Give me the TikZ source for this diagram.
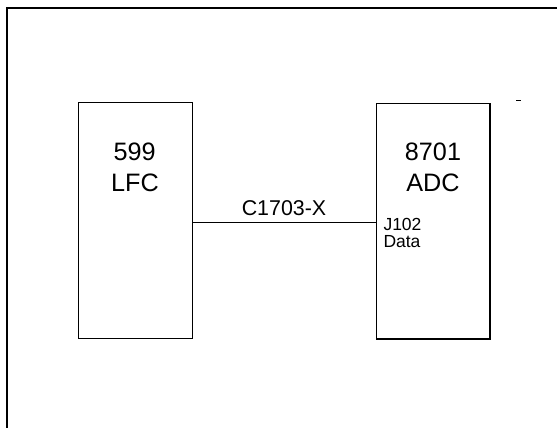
\documentclass[tikz,border=0pt]{standalone}
\usepackage{fontspec}
\setmainfont{Liberation Sans}
\begin{document}
\begin{tikzpicture}[x=1pt,y=-1pt,
  unitbox/.style={draw, line width=1.2pt, minimum width=114pt, minimum height=235.5pt, inner sep=0pt},
  bigtxt/.style={font=\fontsize{25.2}{29}\selectfont, anchor=base, inner sep=0pt},
  midtxt/.style={font=\fontsize{21.4}{25}\selectfont, anchor=base, inner sep=0pt},
  smalltxt/.style={font=\fontsize{17.5}{18}\selectfont, anchor=base west, inner sep=0pt},
  wire/.style={line width=1.2pt}]
\useasboundingbox (0,0) rectangle (557,428);
% outer frame (top and left edges)
\draw[line width=1.4pt] (7,428) -- (7,8) -- (557,8);
% boxes
\node[unitbox] (lfc) at (135.7,220.4) {};
\node[unitbox, minimum width=113.3pt] (adc) at (433.3,221.2) {};
% box labels
\node[bigtxt] (t599) at (134.7,160.7) {599};
\node[bigtxt] (tlfc) at (135,191.7) {LFC};
\node[bigtxt] (t8701) at (433,160.7) {8701};
\node[bigtxt] (tadc) at (433,191.7) {ADC};
% connector
\coordinate (a) at ([yshift=-1.9pt]lfc.east);
\draw[wire] (a) -- (a -| adc.west) coordinate (b);
\node[midtxt] (cable) at (284,215.8) {C1703-X};
\node[smalltxt] (j102) at (383.3,230) {J102};
\node[smalltxt] (data) at (383.3,247.5) {Data};
% small mark
\draw[line width=1.5pt] (516,100.7) -- (520.5,100.7);
\end{tikzpicture}
\end{document}
